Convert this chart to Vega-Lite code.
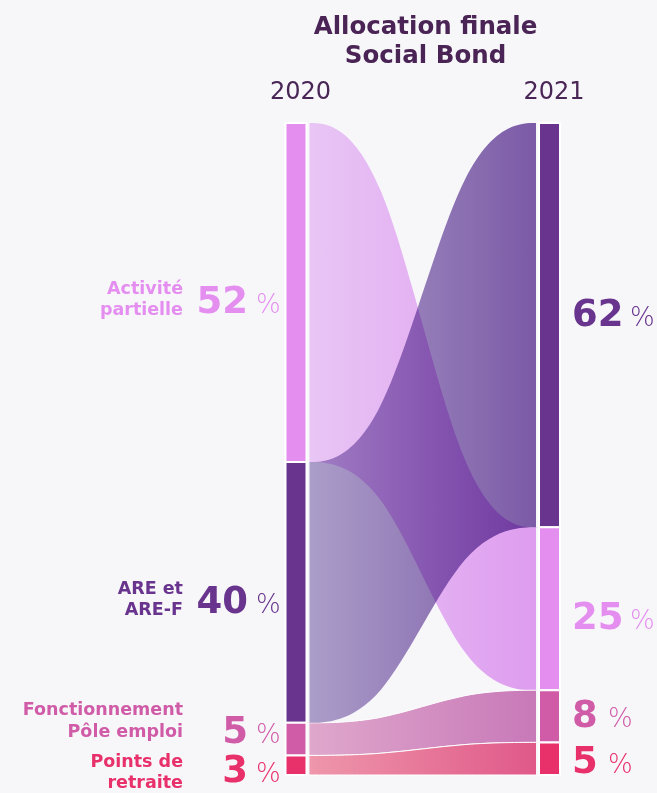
{
  "$schema": "https://vega.github.io/schema/vega-lite/v6.json",
  "autosize": "none",
  "width": 657,
  "height": 793,
  "padding": 0,
  "background": "#f7f7fa",
  "config": {"view": {"stroke": null}},
  "data": {
    "values": [
      {"cat": "Activité partielle", "name": "Activité\npartielle", "year": 2020, "value": 52, "pos": 1, "k": [2020, 2020.3333]},
      {"cat": "ARE et ARE-F", "name": "ARE et\nARE-F", "year": 2020, "value": 40, "pos": 2, "k": [2020, 2020.3333]},
      {"cat": "Fonctionnement Pôle emploi", "name": "Fonctionnement\nPôle emploi", "year": 2020, "value": 5, "pos": 3, "k": [2020, 2020.3333]},
      {"cat": "Points de retraite", "name": "Points de\nretraite", "year": 2020, "value": 3, "pos": 4, "k": [2020, 2020.3333]},
      {"cat": "ARE et ARE-F", "name": "ARE et\nARE-F", "year": 2021, "value": 62, "pos": 1, "k": [2020.6667, 2021]},
      {"cat": "Activité partielle", "name": "Activité\npartielle", "year": 2021, "value": 25, "pos": 2, "k": [2020.6667, 2021]},
      {"cat": "Fonctionnement Pôle emploi", "name": "Fonctionnement\nPôle emploi", "year": 2021, "value": 8, "pos": 3, "k": [2020.6667, 2021]},
      {"cat": "Points de retraite", "name": "Points de\nretraite", "year": 2021, "value": 5, "pos": 4, "k": [2020.6667, 2021]}
    ]
  },
  "transform": [
    {"stack": "value", "groupby": ["year"], "sort": [{"field": "pos", "order": "ascending"}], "as": ["y0", "y1"]}
  ],
  "layer": [
    {
      "transform": [{"filter": "datum.cat == 'Activité partielle'"}, {"flatten": ["k"]}],
      "mark": {"type": "area", "interpolate": "basis", "color": {"gradient": "linear", "x1": 0, "y1": 0, "x2": 1, "y2": 0, "stops": [{"offset": 0, "color": "#e9c8f5"}, {"offset": 1, "color": "#de9aef"}]}},
      "encoding": {
        "x": {"field": "k", "type": "quantitative", "scale": {"domain": [2018.8323, 2021.4241], "nice": false, "zero": false, "padding": 0}, "axis": null},
        "y": {"field": "y0", "type": "quantitative", "scale": {"domain": [-18.865, 102.761], "nice": false, "zero": false, "reverse": true}, "axis": null},
        "y2": {"field": "y1"}
      }
    },
    {
      "transform": [{"filter": "datum.cat == 'Fonctionnement Pôle emploi'"}, {"flatten": ["k"]}],
      "mark": {"type": "area", "interpolate": "basis", "stroke": "#ffffff", "strokeWidth": 1, "color": {"gradient": "linear", "x1": 0, "y1": 0, "x2": 1, "y2": 0, "stops": [{"offset": 0, "color": "#e1aacd"}, {"offset": 1, "color": "#c676b7"}]}},
      "encoding": {
        "x": {"field": "k", "type": "quantitative", "scale": {"domain": [2018.8323, 2021.4241], "nice": false, "zero": false, "padding": 0}, "axis": null},
        "y": {"field": "y0", "type": "quantitative", "scale": {"domain": [-18.865, 102.761], "nice": false, "zero": false, "reverse": true}, "axis": null},
        "y2": {"field": "y1"}
      }
    },
    {
      "transform": [{"filter": "datum.cat == 'Points de retraite'"}, {"flatten": ["k"]}],
      "mark": {"type": "area", "interpolate": "basis", "stroke": "#ffffff", "strokeWidth": 1, "color": {"gradient": "linear", "x1": 0, "y1": 0, "x2": 1, "y2": 0, "stops": [{"offset": 0, "color": "#ef9aad"}, {"offset": 1, "color": "#df5587"}]}},
      "encoding": {
        "x": {"field": "k", "type": "quantitative", "scale": {"domain": [2018.8323, 2021.4241], "nice": false, "zero": false, "padding": 0}, "axis": null},
        "y": {"field": "y0", "type": "quantitative", "scale": {"domain": [-18.865, 102.761], "nice": false, "zero": false, "reverse": true}, "axis": null},
        "y2": {"field": "y1"}
      }
    },
    {
      "transform": [{"filter": "datum.cat == 'ARE et ARE-F'"}, {"flatten": ["k"]}],
      "mark": {"type": "area", "interpolate": "basis", "blend": "multiply", "color": {"gradient": "linear", "x1": 0, "y1": 0, "x2": 1, "y2": 0, "stops": [{"offset": 0, "color": "#b4a7cf"}, {"offset": 1, "color": "#7c58a8"}]}},
      "encoding": {
        "x": {"field": "k", "type": "quantitative", "scale": {"domain": [2018.8323, 2021.4241], "nice": false, "zero": false, "padding": 0}, "axis": null},
        "y": {"field": "y0", "type": "quantitative", "scale": {"domain": [-18.865, 102.761], "nice": false, "zero": false, "reverse": true}, "axis": null},
        "y2": {"field": "y1"}
      }
    },
    {
      "mark": {"type": "bar", "size": 27, "color": "#f7f7fa"},
      "encoding": {
        "x": {"field": "year", "type": "quantitative", "scale": {"domain": [2018.8323, 2021.4241], "nice": false, "zero": false, "padding": 0}, "axis": null},
        "y": {"field": "y0", "type": "quantitative", "scale": {"domain": [-18.865, 102.761], "nice": false, "zero": false, "reverse": true}, "axis": null},
        "y2": {"field": "y1"}
      }
    },
    {
      "mark": {"type": "bar", "size": 21, "stroke": "#ffffff", "strokeWidth": 2},
      "encoding": {
        "x": {"field": "year", "type": "quantitative", "scale": {"domain": [2018.8323, 2021.4241], "nice": false, "zero": false, "padding": 0}, "axis": null},
        "y": {"field": "y0", "type": "quantitative", "scale": {"domain": [-18.865, 102.761], "nice": false, "zero": false, "reverse": true}, "axis": null},
        "y2": {"field": "y1"},
        "color": {"field": "cat", "type": "nominal", "scale": {"domain": ["Activité partielle", "ARE et ARE-F", "Fonctionnement Pôle emploi", "Points de retraite"], "range": ["#e48ef0", "#68348e", "#d05ca8", "#e8306a"]}, "legend": null}
      }
    },
    {
      "transform": [{"filter": "datum.pos == 1"}],
      "mark": {"type": "text", "align": "left", "baseline": "alphabetic", "dx": -26, "font": "DejaVu Sans", "fontSize": 24, "fontWeight": 400, "color": "#4a2656"},
      "encoding": {
        "x": {"field": "year", "type": "quantitative", "scale": {"domain": [2018.8323, 2021.4241], "nice": false, "zero": false, "padding": 0}, "axis": null},
        "y": {"datum": -3.68, "type": "quantitative", "scale": {"domain": [-18.865, 102.761], "nice": false, "zero": false, "reverse": true}, "axis": null},
        "text": {"field": "year", "type": "nominal"}
      }
    },
    {
      "data": {"values": [{"title": "Allocation finale Social Bond"}]},
      "mark": {"type": "text", "text": ["Allocation finale", "Social Bond"], "align": "center", "baseline": "alphabetic", "lineHeight": 29, "font": "DejaVu Sans", "fontSize": 24.5, "fontWeight": 700, "color": "#4a2454"},
      "encoding": {
        "x": {"datum": 2020.511, "type": "quantitative", "scale": {"domain": [2018.8323, 2021.4241], "nice": false, "zero": false, "padding": 0}, "axis": null},
        "y": {"datum": -13.65, "type": "quantitative", "scale": {"domain": [-18.865, 102.761], "nice": false, "zero": false, "reverse": true}, "axis": null}
      }
    },
    {
      "transform": [
        {"fold": ["y0", "y1"], "as": ["edge", "edgeValue"]},
        {"aggregate": [{"op": "mean", "field": "edgeValue", "as": "mid"}], "groupby": ["cat", "name", "year", "value", "pos"]}
      ],
      "layer": [
        {
          "transform": [{"filter": "datum.year == 2020 && datum.pos != 3"}],
          "mark": {"type": "text", "align": "right", "baseline": "alphabetic", "lineBreak": "\n", "lineHeight": 21, "dx": -113, "dy": 1.5, "font": "DejaVu Sans", "fontSize": 17.5, "fontWeight": 700},
          "encoding": {"text": {"field": "name", "type": "nominal"}}
        },
        {
          "transform": [{"filter": "datum.year == 2020 && datum.pos == 3"}],
          "mark": {"type": "text", "align": "right", "baseline": "alphabetic", "lineBreak": "\n", "lineHeight": 22, "dx": -113, "dy": -24, "font": "DejaVu Sans", "fontSize": 17.5, "fontWeight": 700},
          "encoding": {"text": {"field": "name", "type": "nominal"}}
        },
        {
          "transform": [{"filter": "datum.year == 2020 && datum.pos <= 2"}],
          "mark": {"type": "text", "align": "right", "baseline": "alphabetic", "dx": -48, "dy": 20.5, "font": "DejaVu Sans", "fontSize": 37, "fontWeight": 700},
          "encoding": {"text": {"field": "value", "type": "quantitative"}}
        },
        {
          "transform": [{"filter": "datum.year == 2020 && datum.pos == 3"}],
          "mark": {"type": "text", "align": "right", "baseline": "alphabetic", "dx": -48, "dy": 4, "font": "DejaVu Sans", "fontSize": 37, "fontWeight": 700},
          "encoding": {"text": {"field": "value", "type": "quantitative"}}
        },
        {
          "transform": [{"filter": "datum.year == 2020 && datum.pos == 4"}],
          "mark": {"type": "text", "align": "right", "baseline": "alphabetic", "dx": -48, "dy": 17, "font": "DejaVu Sans", "fontSize": 37, "fontWeight": 700},
          "encoding": {"text": {"field": "value", "type": "quantitative"}}
        },
        {
          "transform": [{"filter": "datum.year == 2020 && datum.pos <= 2"}],
          "mark": {"type": "text", "text": "%", "align": "left", "baseline": "alphabetic", "dx": -40, "dy": 20.5, "font": "DejaVu Sans", "fontSize": 26, "fontWeight": 200}
        },
        {
          "transform": [{"filter": "datum.year == 2020 && datum.pos == 3"}],
          "mark": {"type": "text", "text": "%", "align": "left", "baseline": "alphabetic", "dx": -40, "dy": 4, "font": "DejaVu Sans", "fontSize": 26, "fontWeight": 200}
        },
        {
          "transform": [{"filter": "datum.year == 2020 && datum.pos == 4"}],
          "mark": {"type": "text", "text": "%", "align": "left", "baseline": "alphabetic", "dx": -40, "dy": 17, "font": "DejaVu Sans", "fontSize": 26, "fontWeight": 200}
        },
        {
          "transform": [{"filter": "datum.year == 2021 && datum.pos == 1"}],
          "mark": {"type": "text", "align": "left", "baseline": "alphabetic", "dx": 22.5, "dy": 1, "font": "DejaVu Sans", "fontSize": 37, "fontWeight": 700},
          "encoding": {"text": {"field": "value", "type": "quantitative"}}
        },
        {
          "transform": [{"filter": "datum.year == 2021 && datum.pos == 1"}],
          "mark": {"type": "text", "text": "%", "align": "left", "baseline": "alphabetic", "dx": 80.5, "dy": 1, "font": "DejaVu Sans", "fontSize": 26, "fontWeight": 200}
        },
        {
          "transform": [{"filter": "datum.year == 2021 && datum.pos == 2"}],
          "mark": {"type": "text", "align": "left", "baseline": "alphabetic", "dx": 22.5, "dy": 20.3, "font": "DejaVu Sans", "fontSize": 37, "fontWeight": 700},
          "encoding": {"text": {"field": "value", "type": "quantitative"}}
        },
        {
          "transform": [{"filter": "datum.year == 2021 && datum.pos == 2"}],
          "mark": {"type": "text", "text": "%", "align": "left", "baseline": "alphabetic", "dx": 80.5, "dy": 20.3, "font": "DejaVu Sans", "fontSize": 26, "fontWeight": 200}
        },
        {
          "transform": [{"filter": "datum.year == 2021 && datum.pos == 3"}],
          "mark": {"type": "text", "align": "left", "baseline": "alphabetic", "dx": 22.5, "dy": 10.4, "font": "DejaVu Sans", "fontSize": 37, "fontWeight": 700},
          "encoding": {"text": {"field": "value", "type": "quantitative"}}
        },
        {
          "transform": [{"filter": "datum.year == 2021 && datum.pos == 3"}],
          "mark": {"type": "text", "text": "%", "align": "left", "baseline": "alphabetic", "dx": 58.5, "dy": 10.4, "font": "DejaVu Sans", "fontSize": 26, "fontWeight": 200}
        },
        {
          "transform": [{"filter": "datum.year == 2021 && datum.pos == 4"}],
          "mark": {"type": "text", "align": "left", "baseline": "alphabetic", "dx": 22.5, "dy": 14.3, "font": "DejaVu Sans", "fontSize": 37, "fontWeight": 700},
          "encoding": {"text": {"field": "value", "type": "quantitative"}}
        },
        {
          "transform": [{"filter": "datum.year == 2021 && datum.pos == 4"}],
          "mark": {"type": "text", "text": "%", "align": "left", "baseline": "alphabetic", "dx": 58.5, "dy": 14.3, "font": "DejaVu Sans", "fontSize": 26, "fontWeight": 200}
        }
      ],
      "encoding": {
        "x": {"field": "year", "type": "quantitative", "scale": {"domain": [2018.8323, 2021.4241], "nice": false, "zero": false, "padding": 0}, "axis": null},
        "y": {"field": "mid", "type": "quantitative", "scale": {"domain": [-18.865, 102.761], "nice": false, "zero": false, "reverse": true}, "axis": null},
        "color": {"field": "cat", "type": "nominal", "scale": {"domain": ["Activité partielle", "ARE et ARE-F", "Fonctionnement Pôle emploi", "Points de retraite"], "range": ["#e48ef0", "#68348e", "#d05ca8", "#e8306a"]}, "legend": null}
      }
    }
  ]
}
